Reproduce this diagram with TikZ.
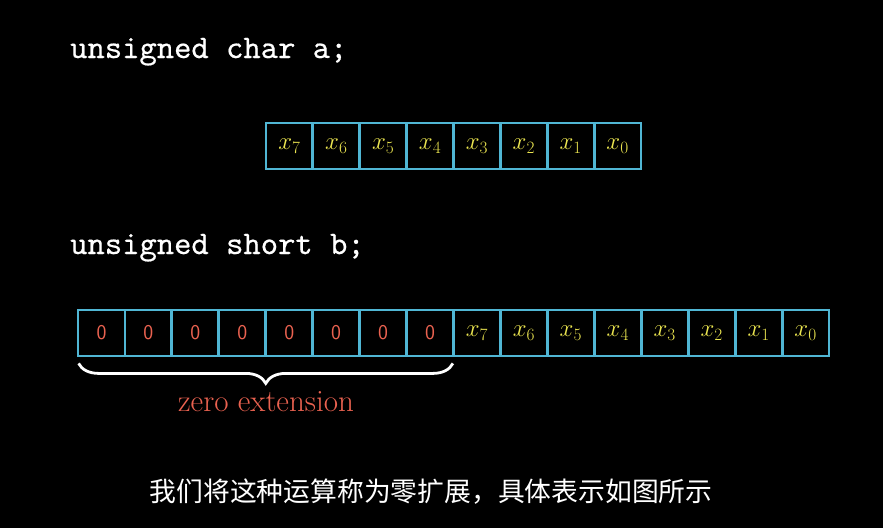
\documentclass[tikz,border=0pt]{standalone}
\usepackage{fontspec}
\newfontfamily\cjk{Noto Sans CJK SC}
\newfontface\codefont{lmmono10-regular.otf}[FakeBold=0.45]
\usetikzlibrary{decorations.pathreplacing}
\definecolor{cellblue}{RGB}{80,182,212}
\definecolor{bityellow}{RGB}{236,230,80}
\definecolor{zerored}{RGB}{234,98,80}
\tikzset{
  cell/.style={draw=cellblue, line width=2.8pt, minimum width=46.9pt, minimum height=46pt, inner sep=0pt, text=bityellow, font=\fontsize{23.5}{26}\selectfont},
  zcell/.style={cell, text=zerored, font=\sffamily\fontsize{21}{24}\selectfont},
  code/.style={text=white, font=\codefont\fontsize{33}{36}\selectfont, inner sep=0pt, anchor=base west},
}
\begin{document}
\begin{tikzpicture}[x=1pt,y=-1pt]
\fill[black] (0,0) rectangle (883,528);
\useasboundingbox (0,0) rectangle (883,528);
\node[code] (ca) at (70,58) {unsigned char a;};
\foreach \i in {0,...,7}{
  \pgfmathtruncatemacro\k{7-\i}
  \node[cell] (a\i) at ({266+46.875*(\i+0.5)},146) {$x_{\k}$};
}
\node[code] (cb) at (70,254) {unsigned short b;};
\foreach \i in {0,...,7}{
  \node[zcell] (b\i) at ({78+46.94*(\i+0.5)},333) {0};
}
\foreach \i in {8,...,15}{
  \pgfmathtruncatemacro\k{15-\i}
  \node[cell] (b\i) at ({78+46.94*(\i+0.5)},333) {$x_{\k}$};
}
\draw[white, line width=2.8pt, decorate, decoration={brace, mirror, amplitude=20pt}]
  ([shift={(2,6)}]b0.south west) -- ([shift={(-2,6)}]b7.south east)
  coordinate[midway] (bm);
\node[text=zerored, font=\fontsize{31}{34}\selectfont] (zl) at (266,402) {zero extension};
\node[text=white, font=\cjk\fontsize{26.8}{30}\selectfont] (sub) at (431,492) {我们将这种运算称为零扩展，具体表示如图所示};
\end{tikzpicture}
\end{document}
